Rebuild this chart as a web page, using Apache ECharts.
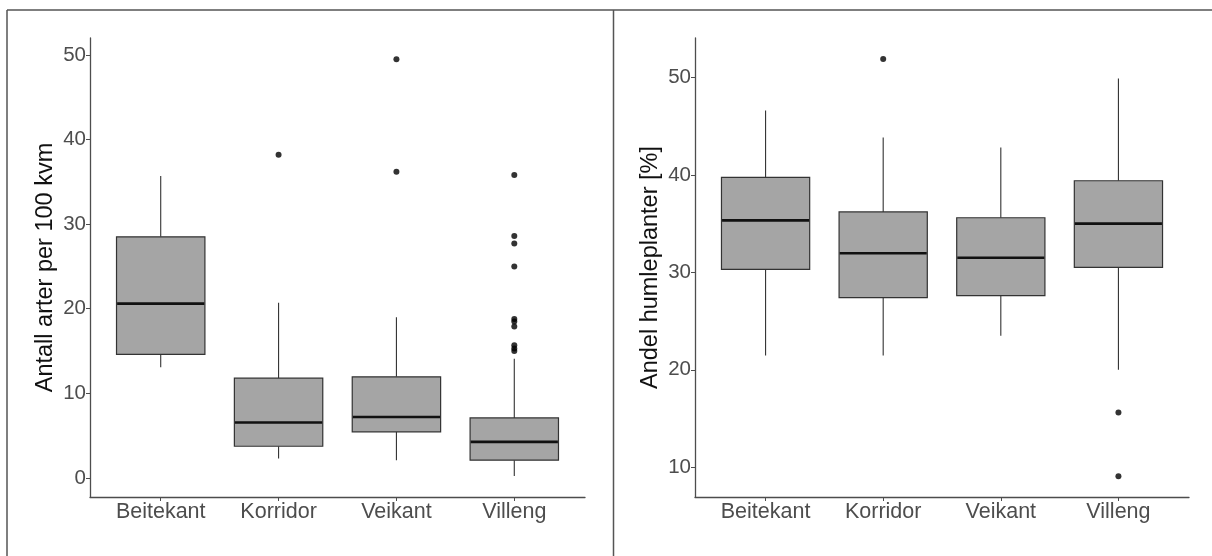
<!DOCTYPE html>
<html>
<head>
<meta charset="utf-8">
<script src="https://cdn.jsdelivr.net/npm/echarts@6/dist/echarts.min.js"></script>
<style>
html,body{margin:0;padding:0;background:#fff;}
#chart{width:1212px;height:556px;}
</style>
</head>
<body>
<div id="chart"></div>
<script>
// ---- Data ----
const categories = ['Beitekant', 'Korridor', 'Veikant', 'Villeng'];
// [lower whisker, Q1, median, Q3, upper whisker]
const speciesBox = [
  [13.1, 14.6, 20.6, 28.5, 35.7],
  [2.3, 3.75, 6.55, 11.8, 20.7],
  [2.1, 5.45, 7.2, 11.95, 19.0],
  [0.24, 2.1, 4.26, 7.1, 14.1]
];
// [category index, value]
const speciesOutliers = [
  [1, 38.2],
  [2, 49.5], [2, 36.2],
  [3, 35.8], [3, 28.6], [3, 27.7], [3, 25.0], [3, 18.8], [3, 18.5], [3, 17.9], [3, 15.7], [3, 15.3], [3, 15.0]
];
const shareBox = [
  [21.46, 30.3, 35.33, 39.74, 46.6],
  [21.46, 27.4, 31.95, 36.2, 43.85],
  [23.5, 27.6, 31.5, 35.6, 42.8],
  [20.0, 30.5, 35.0, 39.4, 49.9]
];
const shareOutliers = [
  [1, 51.9],
  [3, 15.6], [3, 9.08]
];
const speciesTicks = [0, 10, 20, 30, 40, 50];
const shareTicks = [10, 20, 30, 40, 50];
const catTicks = [0, 1, 2, 3];
const speciesTitle = 'Antall arter per 100 kvm';
const shareTitle = 'Andel humleplanter [%]';

// ---- Rendering ----
const AXIS_COLOR = '#4d4d4d';
const FONT = '"Liberation Sans", Arial, sans-serif';

function renderBox(params, api) {
  const x = api.value(0);
  const lo = api.value(1), q1 = api.value(2), med = api.value(3), q3 = api.value(4), hi = api.value(5);
  const w = api.size([0.75, 0])[0];
  const pLo = api.coord([x, lo]);
  const pQ1 = api.coord([x, q1]);
  const pMed = api.coord([x, med]);
  const pQ3 = api.coord([x, q3]);
  const pHi = api.coord([x, hi]);
  const cx = pMed[0];
  const lineStyle = { stroke: '#333333', lineWidth: 1.1 };
  return {
    type: 'group',
    children: [
      { type: 'line', shape: { x1: cx, y1: pHi[1], x2: cx, y2: pQ3[1] }, style: lineStyle },
      { type: 'line', shape: { x1: cx, y1: pQ1[1], x2: cx, y2: pLo[1] }, style: lineStyle },
      { type: 'rect', shape: { x: cx - w / 2, y: pQ3[1], width: w, height: pQ1[1] - pQ3[1] },
        style: { fill: '#a5a5a5', stroke: '#333333', lineWidth: 1.2 } },
      { type: 'line', shape: { x1: cx - w / 2 + 0.6, y1: pMed[1], x2: cx + w / 2 - 0.6, y2: pMed[1] },
        style: { stroke: '#111111', lineWidth: 2.6 } }
    ]
  };
}

function xAxisCfg(gridIndex) {
  return {
    type: 'value', gridIndex: gridIndex, min: -0.6, max: 3.6,
    splitLine: { show: false },
    axisLine: { show: true, onZero: false, lineStyle: { color: AXIS_COLOR, width: 1.3 } },
    axisTick: { show: true, length: 4, customValues: catTicks, lineStyle: { color: AXIS_COLOR, width: 1 } },
    axisLabel: { show: true, customValues: catTicks, margin: 4, color: AXIS_COLOR, fontSize: 21.5, fontFamily: FONT,
      formatter: function (v) { return categories[Math.round(v)]; } }
  };
}

function yAxisCfg(gridIndex, min, max, ticks, title) {
  return {
    type: 'value', gridIndex: gridIndex, min: min, max: max,
    splitLine: { show: false },
    axisLine: { show: true, onZero: false, lineStyle: { color: AXIS_COLOR, width: 1.3 } },
    axisTick: { show: true, length: 4, customValues: ticks, lineStyle: { color: AXIS_COLOR, width: 1 } },
    axisLabel: { show: true, customValues: ticks, margin: 4, color: AXIS_COLOR, fontSize: 20.5, fontFamily: FONT },
    name: title, nameLocation: 'middle', nameRotate: 90, nameGap: 32,
    nameTextStyle: { color: '#111111', fontSize: 23.5, fontFamily: FONT }
  };
}

const chart = echarts.init(document.getElementById('chart'), null, { renderer: 'canvas' });
chart.setOption({
  animation: false,
  backgroundColor: '#ffffff',
  grid: [
    { left: 90, top: 38, width: 495, height: 459 },
    { left: 695, top: 38, width: 494, height: 459 }
  ],
  xAxis: [xAxisCfg(0), xAxisCfg(1)],
  yAxis: [
    yAxisCfg(0, -2.25, 52.0, speciesTicks, speciesTitle),
    yAxisCfg(1, 6.94, 54.05, shareTicks, shareTitle)
  ],
  series: [
    { type: 'custom', xAxisIndex: 0, yAxisIndex: 0, renderItem: renderBox,
      encode: { x: 0, y: [1, 2, 3, 4, 5] },
      data: speciesBox.map(function (b, i) { return [i].concat(b); }) },
    { type: 'scatter', xAxisIndex: 0, yAxisIndex: 0, symbolSize: 6,
      itemStyle: { color: '#000000' }, data: speciesOutliers },
    { type: 'custom', xAxisIndex: 1, yAxisIndex: 1, renderItem: renderBox,
      encode: { x: 0, y: [1, 2, 3, 4, 5] },
      data: shareBox.map(function (b, i) { return [i].concat(b); }) },
    { type: 'scatter', xAxisIndex: 1, yAxisIndex: 1, symbolSize: 6,
      itemStyle: { color: '#000000' }, data: shareOutliers }
  ],
  graphic: [
    { type: 'line', shape: { x1: 7, y1: 10, x2: 1212, y2: 10 }, style: { stroke: '#555555', lineWidth: 1.5 } },
    { type: 'line', shape: { x1: 7, y1: 10, x2: 7, y2: 556 }, style: { stroke: '#555555', lineWidth: 1.5 } },
    { type: 'line', shape: { x1: 613.5, y1: 10, x2: 613.5, y2: 556 }, style: { stroke: '#555555', lineWidth: 1.5 } }
  ]
});
</script>
</body>
</html>
